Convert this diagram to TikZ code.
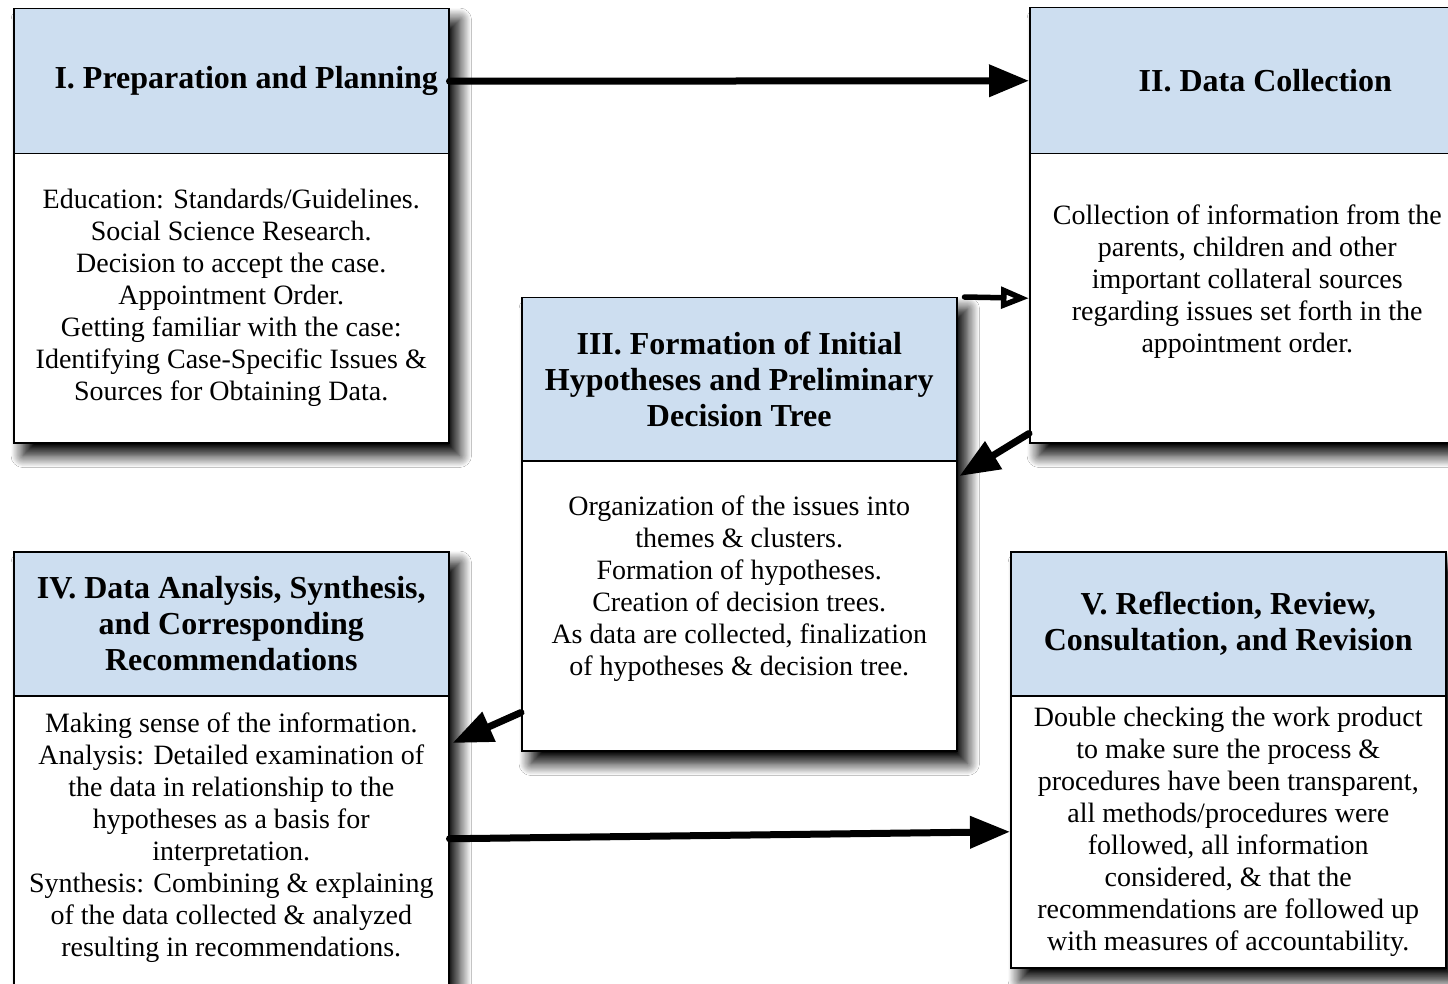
\documentclass[tikz,border=0pt]{standalone}
\usepackage{fontspec}
\setmainfont{Liberation Serif}
\usetikzlibrary{arrows.meta}
\usetikzlibrary{shadows.blur}
\usetikzlibrary{backgrounds}
\definecolor{headblue}{RGB}{205,222,240}
\tikzset{
stage head/.style={draw=black, line width=1.5pt, fill=headblue, anchor=north west, minimum width=435pt, inner sep=0pt},
stage body/.style={stage head, fill=white},
stage shadow/.style={blur shadow={shadow xshift=10pt, shadow yshift=-12pt, shadow blur radius=12pt, shadow blur steps=16, shadow opacity=100}},
head text/.style={align=center, inner sep=0pt, font=\bfseries\fontsize{32}{36}\selectfont},
body text/.style={align=center, inner sep=0pt, font=\fontsize{28}{32}\selectfont},
flow/.style={line width=7pt, line cap=round, -{Triangle[length=40pt, width=31pt]}},
}

\begin{document}
\begin{tikzpicture}[x=1pt, y=-1pt]
		\useasboundingbox (0,0) rectangle (1448,984);
		\node[stage head, minimum height=145pt] (prepHead) at (13,8) {};
		\node[stage body, minimum height=289pt] (prepBody) at (13,153) {};
		\node[stage head, minimum height=146pt] (collectHead) at (1029,7) {};
		\node[stage body, minimum height=289pt] (collectBody) at (1029,153) {};
		\node[stage head, minimum height=163pt] (hypoHead) at (521,297) {};
		\node[stage body, minimum height=290pt] (hypoBody) at (521,460) {};
		\node[stage head, minimum height=144pt] (analysisHead) at (13,551) {};
		\node[stage body, minimum height=300pt] (analysisBody) at (13,695) {};
		\node[stage head, minimum height=144pt] (reviewHead) at (1010,551) {};
		\node[stage body, minimum height=272pt] (reviewBody) at (1010,695) {};
		\begin{scope}[on background layer]
			\fill[white] (0,0) rectangle (1448,984);
			\foreach \stage in {prep, collect, hypo, analysis, review}
				\path[stage shadow] (\stage Head.north west) rectangle (\stage Body.south east);
		\end{scope}
		\node[head text] (prepTitle) at ([xshift=15pt]prepHead.center) {I. Preparation and Planning};
		\node[head text] (collectTitle) at ([xshift=18pt]collectHead.center) {II. Data Collection};
		\node[head text] (hypoTitle) at (hypoHead.center) {III. Formation of Initial\\Hypotheses and Preliminary\\Decision Tree};
		\node[head text] (analysisTitle) at (analysisHead.center) {IV. Data Analysis, Synthesis,\\and Corresponding\\Recommendations};
		\node[head text] (reviewTitle) at (reviewHead.center) {V. Reflection, Review,\\Consultation, and Revision};
		\node[body text] (prepText) at (prepBody.center) {Education: Standards/Guidelines.\\Social Science Research.\\Decision to accept the case.\\Appointment Order.\\Getting familiar with the case:\\Identifying Case-Specific Issues \&\\Sources for Obtaining Data.};
		\node[body text] (collectText) at ([yshift=17pt]collectBody.center) {Collection of information from the\\parents, children and other\\important collateral sources\\regarding issues set forth in the\\appointment order.};
		\node[body text] (hypoText) at ([yshift=17pt]hypoBody.center) {Organization of the issues into\\themes \& clusters.\\Formation of hypotheses.\\Creation of decision trees.\\As data are collected, finalization\\of hypotheses \& decision tree.};
		\node[body text] (analysisText) at ([yshift=-143pt]analysisBody.north) {Making sense of the information.\\Analysis: Detailed examination of\\the data in relationship to the\\hypotheses as a basis for\\interpretation.\\Synthesis: Combining \& explaining\\of the data collected \& analyzed\\resulting in recommendations.};
		\node[body text] (reviewText) at (reviewBody.center) {Double checking the work product\\to make sure the process \&\\procedures have been transparent,\\all methods/procedures were\\followed, all information\\considered, \& that the\\recommendations are followed up\\with measures of accountability.};
		\draw[flow] (prepHead.east) to (collectHead.west);
		\draw[flow, line width=5.5pt, -{Triangle[open, length=28pt, width=21pt]}] ([xshift=7pt]hypoHead.north east) to (collectBody.west);
		\draw[flow] ([yshift=10pt]collectBody.south west) to ([xshift=2pt, yshift=-16pt]hypoBody.north east);
		\draw[flow] ([yshift=39pt]hypoBody.south west) to ([xshift=3pt, yshift=-48pt]analysisBody.north east);
		\draw[flow] ([yshift=7pt]analysisBody.east) to (reviewBody.west);
	\end{tikzpicture}
\end{document}
